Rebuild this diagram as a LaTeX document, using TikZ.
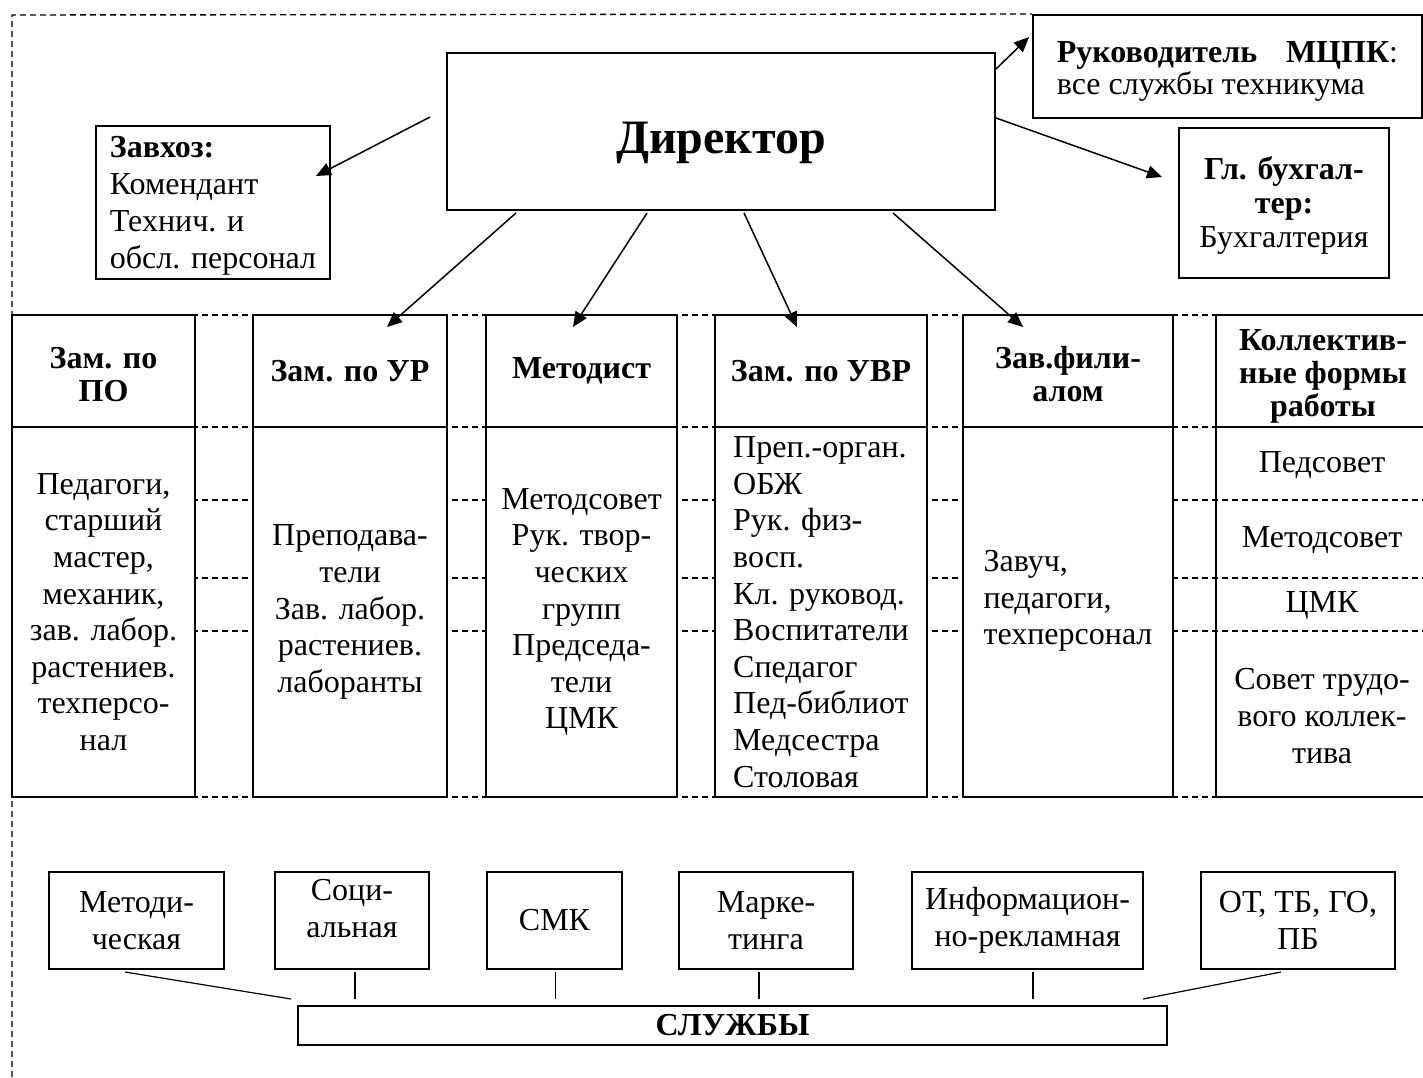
\documentclass[tikz,border=0pt]{standalone}
\usepackage{fontspec}
\setmainfont{Liberation Serif}
\usetikzlibrary{arrows.meta,calc}

\newcommand{\txt}{\fontsize{16}{18.3}\selectfont}
\newcommand{\hdr}{\fontsize{16}{16.5}\selectfont\bfseries}

\begin{document}
\begin{tikzpicture}[x=0.5pt,y=-0.5pt,
  box/.style={draw, line width=1pt, fill=white, inner sep=2pt, align=center, font=\txt},
  hbox/.style={box, minimum height=56pt, font=\hdr},
  bbox/.style={box, minimum height=185pt},
  sbox/.style={box, minimum height=48.5pt},
  guide/.style={dash pattern=on 3pt off 2pt, line width=0.7pt},
  arr/.style={-{Triangle[length=7.5pt,width=6.5pt]}, line width=0.75pt},
  link/.style={line width=0.6pt}]
\useasboundingbox (0,0) rectangle (1423,1077);

% dashed rows behind the columns
\foreach \y in {315,427,500,578,631,797}
  \draw[guide] (12,\y) -- (1423,\y);

% top level
\node[box, minimum width=274pt, minimum height=78.5pt, text height=24pt, text depth=2pt, font=\fontsize{24}{28}\selectfont\bfseries] (dir) at (721,131.5) {Директор};
\node[box, minimum width=117pt, minimum height=74.5pt, align=left, font=\fontsize{16}{18.5}\selectfont] (zavhoz) at (213,202.5) {\rule{0pt}{14pt}\textbf{Завхоз:}\\Комендант\\Технич. и\\обсл. персонал};
\node[box, minimum width=194.5pt, minimum height=51.5pt, align=left, font=\fontsize{16}{16}\selectfont] (mcpk) at (1227.5,66.5) {\rule{0pt}{15pt}\textbf{Руководитель\hspace{0.9em}МЦПК}:\\все службы техникума};
\node[box, minimum width=105pt, minimum height=75pt, font=\fontsize{16}{17}\selectfont] (buh) at (1284,203) {\rule{0pt}{14pt}\textbf{Гл. бухгал-}\\\textbf{тер:}\\Бухгалтерия};

% columns
\node[hbox, minimum width=91.5pt] (po-h) at (103.5,371) {\rule{0pt}{14pt}Зам. по\\ПО};
\node[bbox, minimum width=91.5pt] (po-b) at (103.5,612) {Педагоги,\\старший\\мастер,\\механик,\\зав. лабор.\\растениев.\\техперсо-\\нал};

\node[hbox, minimum width=97pt] (ur-h) at (350,371) {Зам. по УР};
\node[bbox, minimum width=97pt] (ur-b) at (350,612) {Преподава-\\тели\\Зав. лабор.\\растениев.\\лаборанты};

\node[hbox, minimum width=95.5pt] (met-h) at (581.5,371) {Методист};
\node[bbox, minimum width=95.5pt] (met-b) at (581.5,612) {Методсовет\\Рук. твор-\\ческих\\групп\\Председа-\\тели\\ЦМК};

\node[hbox, minimum width=106pt] (uvr-h) at (821,371) {Зам. по УВР};
\node[bbox, minimum width=106pt, align=left] (uvr-b) at (821,612) {Преп.-орган.\\ОБЖ\\Рук. физ-\\восп.\\Кл. руковод.\\Воспитатели\\Спедагог\\Пед-библиот\\Медсестра\\Столовая};

\node[hbox, minimum width=105pt] (fil-h) at (1068,371) {\rule{0pt}{14pt}Зав.фили-\\алом};
\node[bbox, minimum width=105pt, align=left] (fil-b) at (1068,612) {Завуч,\\педагоги,\\техперсонал\\[-4pt]};

\node[hbox, minimum width=107pt, fill=none] (kol-h) at (1323,371) {\rule{0pt}{16pt}Коллектив-\\ные формы\\работы};
\node[bbox, minimum width=107pt, fill=none] (kol-b) at (1323,612) {};
\node[font=\txt] (k1) at (1322,465) {Педсовет};
\node[font=\txt] (k2) at (1322,540) {Методсовет};
\node[font=\txt] (k3) at (1322,605) {ЦМК};
\node[font=\txt, align=center] (k4) at (1322,716) {Совет трудо-\\вого коллек-\\тива};

% services
\node[sbox, minimum width=87.5pt] (s1) at (136.5,920.5) {Методи-\\ческая};
\node[sbox, minimum width=77pt] (s2) at (352,920.5) {Соци-\\альная\\[-6pt]};
\node[sbox, minimum width=67.5pt] (s3) at (554.5,920.5) {СМК};
\node[sbox, minimum width=87pt] (s4) at (766,920.5) {Марке-\\тинга};
\node[sbox, minimum width=115.5pt] (s5) at (1027.5,920.5) {Информацион-\\но-рекламная};
\node[sbox, minimum width=97pt] (s6) at (1298,920.5) {ОТ, ТБ, ГО,\\ПБ};
\node[box, minimum width=434.5pt, minimum height=19.5pt, font=\txt\bfseries] (sl) at (732.5,1025.5) {СЛУЖБЫ};

% outer border
\draw[guide] (12,1077) -- (12,15) -- (mcpk.north west);

% arrows
\draw[arr] ([shift={(-8pt,7.25pt)}]dir.west) -- ([shift={(-7.5pt,13.25pt)}]zavhoz.east);
\draw[arr] ([yshift=-8.5pt]dir.north east) -- ([shift={(-1.5pt,14.75pt)}]mcpk.west);
\draw[arr] ([yshift=6.75pt]dir.east) -- ([shift={(-8pt,13pt)}]buh.west);
\draw[arr] ([shift={(35pt,-1pt)}]dir.south west) -- ([shift={(18.5pt,-6.5pt)}]ur-h.north);
\draw[arr] ([shift={(-37pt,-1pt)}]dir.south) -- ([shift={(-4.25pt,-6.5pt)}]met-h.north);
\draw[arr] ([shift={(11.5pt,-1pt)}]dir.south) -- ([shift={(-12pt,-6.5pt)}]uvr-h.north);
\draw[arr] ([shift={(-51.5pt,-1pt)}]dir.south east) -- ([shift={(-22.5pt,-6.5pt)}]fil-h.north);

% links to services
\draw[link] ([shift={(-5.75pt,-1pt)}]s1.south) -- ([shift={(-3pt,3pt)}]sl.north west);
\draw[link] ($(s2.south)+(1.5pt,-1pt)$) -- ($(s2.south |- sl.north)+(1.5pt,3pt)$);
\draw[link] ($(s3.south)+(0.5pt,-1pt)$) -- ($(s3.south |- sl.north)+(0.5pt,3pt)$);
\draw[link] ($(s4.south)+(-3.5pt,-1pt)$) -- ($(s4.south |- sl.north)+(-3.5pt,3pt)$);
\draw[link] ($(s5.south)+(2.75pt,-1pt)$) -- ($(s5.south |- sl.north)+(2.75pt,3pt)$);
\draw[link] ([shift={(-8.5pt,-1pt)}]s6.south) -- ([shift={(-12.5pt,3pt)}]sl.north east);
\end{tikzpicture}
\end{document}
